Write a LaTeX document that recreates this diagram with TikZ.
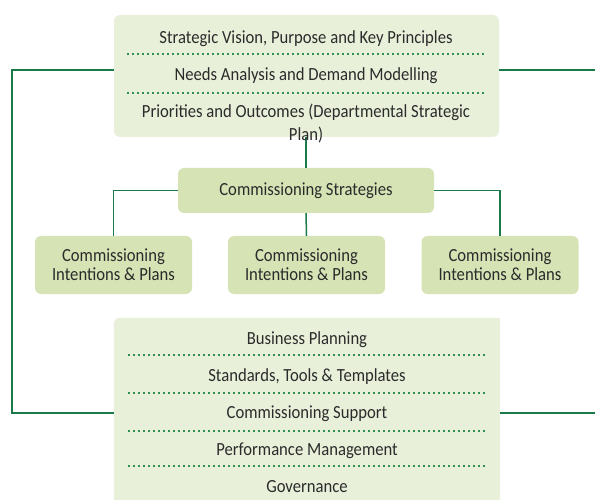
\documentclass[tikz,border=0pt]{standalone}
\usepackage{fontspec}
\setmainfont{Carlito}[FakeStretch=0.9]
\begin{document}
\begin{tikzpicture}[x=1pt,y=-1pt,
  every node/.style={font=\fontsize{18.5}{19}\selectfont, text=inktext, inner sep=0pt},
  link/.style={draw=linkgreen, line width=1.5pt},
  dotrule/.style={draw=dotgreen, line width=1.6pt, dash pattern=on 1.6pt off 3.4pt},
  panel/.style={rectangle, rounded corners=6pt, fill=softfill},
  stepbox/.style={rectangle, rounded corners=6pt, fill=boxfill, align=center},
  label/.style={anchor=base}]
\definecolor{linkgreen}{HTML}{1B7A4A}
\definecolor{dotgreen}{HTML}{2E9152}
\definecolor{softfill}{HTML}{E9F0DA}
\definecolor{boxfill}{HTML}{D5E3B5}
\definecolor{inktext}{HTML}{2B2B2B}
\useasboundingbox (0,0) rectangle (595,500);
\clip (0,0) rectangle (595,500);

% free ends of the side connectors
\coordinate (farL) at (12,413);
\coordinate (outTR) at (595,70);
\coordinate (outBR) at (595,413);

% upper panel
\node[panel, minimum width=385pt, minimum height=122pt] (top) at (306.5,76) {};
% lower panel (runs off the bottom edge)
\node[rectangle, minimum width=386pt, minimum height=190pt] (bot) at (307,413) {};
\fill[softfill, rounded corners=6pt] (bot.north west) rectangle (bot.south east);
\fill[softfill] ([xshift=-12pt]bot.north east) rectangle ([yshift=-12pt]bot.north east);

% strategies and plans
\node[stepbox, minimum width=256pt, minimum height=45pt] (strat) at (306,190.5) {Commissioning Strategies};
\node[stepbox, minimum width=157pt, minimum height=58pt] (plan1) at (113.5,265) {Commissioning\\Intentions \& Plans};
\node[stepbox, minimum width=157pt, minimum height=58pt] (plan2) at (306.5,265) {Commissioning\\Intentions \& Plans};
\node[stepbox, minimum width=157pt, minimum height=58pt] (plan3) at (500,265) {Commissioning\\Intentions \& Plans};

% connectors
\draw[link] ([yshift=6pt]top.west) -| (farL) -- (bot.west);
\draw[link] ([yshift=6pt]top.east) -- (outTR);
\draw[link] (bot.east) -- (outBR);
\draw[link] (top.south -| strat.north) -- (strat.north);
\draw[link] (strat.west) -| (plan1.north);
\draw[link] (strat.south) -- (plan2.north);
\draw[link] (strat.east) -| (plan3.north);

% upper panel contents
\node[label] (v1) at (306,44) {Strategic Vision, Purpose and Key Principles};
\draw[dotrule] (127,54) -- (485,54);
\node[label] (v2) at (306,81) {Needs Analysis and Demand Modelling};
\draw[dotrule] (127,93) -- (485,93);
\node[label] (v3) at (306,118) {Priorities and Outcomes (Departmental Strategic};
\node[label] (v4) at (306,141) {Plan)};

% lower panel contents
\node[label] (b1) at (307,344) {Business Planning};
\draw[dotrule] (128,355) -- (487,355);
\node[label] (b2) at (307,381) {Standards, Tools \& Templates};
\draw[dotrule] (128,393) -- (487,393);
\node[label] (b3) at (307,418) {Commissioning Support};
\draw[dotrule] (128,431) -- (487,431);
\node[label] (b4) at (307,455) {Performance Management};
\draw[dotrule] (128,466) -- (487,466);
\node[label] (b5) at (307,492) {Governance};
\end{tikzpicture}
\end{document}
